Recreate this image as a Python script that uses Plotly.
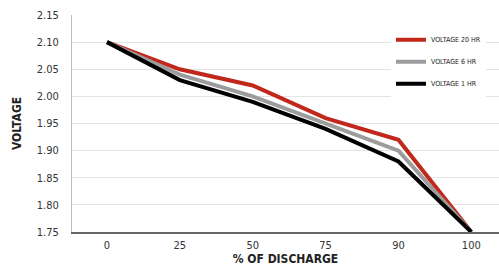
import plotly.graph_objects as go

categories = ["0", "25", "50", "75", "90", "100"]
voltage_20hr = [2.10, 2.05, 2.02, 1.96, 1.92, 1.75]
voltage_6hr = [2.10, 2.04, 2.00, 1.95, 1.90, 1.75]
voltage_1hr = [2.10, 2.03, 1.99, 1.94, 1.88, 1.75]
y_ticks = [1.75, 1.80, 1.85, 1.90, 1.95, 2.00, 2.05, 2.10, 2.15]

FONT = "Liberation Sans Narrow, DejaVu Sans Condensed, Arial Narrow, Liberation Sans, sans-serif"

fig = go.Figure()
series = [
    ("VOLTAGE 20 HR", voltage_20hr, "#c1271b"),
    ("VOLTAGE 6 HR", voltage_6hr, "#9c9c9c"),
    ("VOLTAGE 1 HR", voltage_1hr, "#000000"),
]
for i, (name, vals, color) in enumerate(series):
    fig.add_trace(go.Scatter(
        x=categories, y=vals, name=name, mode="lines",
        line=dict(color=color, width=4), legendgroup=f"g{i}",
    ))

fig.update_layout(
    width=499, height=266,
    margin=dict(l=72, r=0, t=15, b=34),
    paper_bgcolor="white", plot_bgcolor="white",
    font=dict(family=FONT, color="#333333", size=11),
    legend=dict(
        x=0.747, y=0.953, xanchor="left", yanchor="top",
        bgcolor="white", font=dict(family=FONT, size=7, color="#222"),
        tracegroupgap=3, itemwidth=30,
    ),
    xaxis=dict(
        type="category", range=[-0.48, 5.38], automargin=False,
        showgrid=False, showline=True, linecolor="#666666", linewidth=1.5,
        ticks="outside", ticklen=2, tickcolor="rgba(0,0,0,0)", tickfont=dict(size=11),
        title=dict(text="<b>% OF DISCHARGE</b>", font=dict(size=12, color="#222"), standoff=0),
        zeroline=False,
    ),
    yaxis=dict(
        range=[1.75, 2.15], tickvals=y_ticks, tickformat=".2f", automargin=False,
        showgrid=True, gridcolor="#e3e3e3", gridwidth=1,
        showline=True, linecolor="#bbbbbb", linewidth=1,
        ticks="outside", ticklen=10, tickcolor="rgba(0,0,0,0)",
        tickfont=dict(size=11),
        title=dict(text="<b>VOLTAGE</b>", font=dict(size=12, color="#222"), standoff=12),
        zeroline=False,
    ),
)

fig.write_html(
    "out.html",
    config={"displayModeBar": False},
    post_script="document.body.style.margin='0';document.body.style.overflow='hidden';",
)
